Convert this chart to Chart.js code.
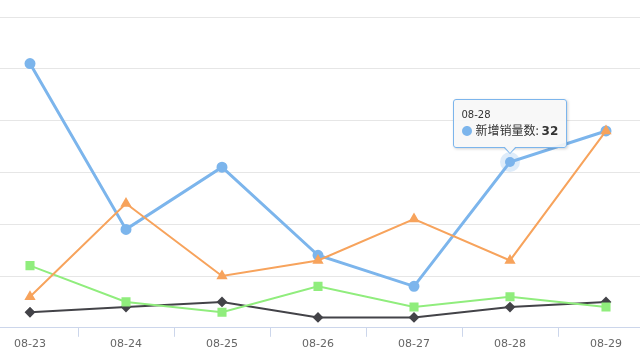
<!DOCTYPE html>
<html>
<head>
<meta charset="utf-8">
<script src="https://cdn.jsdelivr.net/npm/chart.js@4/dist/chart.umd.min.js"></script>
<style>
  html, body { margin: 0; padding: 0; background: #fff; overflow: hidden; width: 640px; height: 360px; }
  #wrap { position: absolute; left: -26px; top: 0; width: 688px; height: 360px; }
  #tip {
    position: absolute; display: none; box-sizing: border-box;
    background: rgba(247,247,247,0.9); border: 1px solid #7cb5ec; border-radius: 3px;
    box-shadow: 1px 1px 3px rgba(0,0,0,0.18);
    padding: 8px 8px 7px 8px; color: #333; white-space: nowrap;
    font-family: "DejaVu Sans", "Noto Sans CJK SC", sans-serif;
  }
  #tip .t { font-size: 10px; line-height: 13px; }
  #tip .b { font-size: 12px; line-height: 18px; font-family: "Noto Sans CJK SC", sans-serif; }
  #tip .b b { font-family: "DejaVu Sans", sans-serif; }
  #tip .dot { color: #7cb5ec; font-size: 11px; margin-right: 3px; }
  #tip:after, #tip:before {
    content: ""; position: absolute; left: 50%; width: 0; height: 0;
    border-left: 7px solid transparent; border-right: 7px solid transparent;
    transform: translateX(-50%);
  }
  #tip:before { top: 100%; border-top: 7px solid #7cb5ec; }
  #tip:after { top: calc(100% - 1px); border-top: 7px solid rgba(247,247,247,1); border-left-width: 6px; border-right-width: 6px; }
</style>
</head>
<body>
<div id="wrap"><canvas id="myChart"></canvas></div>
<div id="tip"></div>
<script>
const days = ['08-23', '08-24', '08-25', '08-26', '08-27', '08-28', '08-29']
const newSales = [51, 19, 31, 14, 8, 32, 38]
const seriesB = [3, 4, 5, 2, 2, 4, 5]
const seriesC = [12, 5, 3, 8, 4, 6, 4]
const seriesD = [6, 24, 10, 13, 21, 13, 38]
const yTicks = [0, 10, 20, 30, 40, 50, 60]

const tipEl = document.getElementById('tip');

function externalTip(context) {
  const model = context.tooltip;
  if (model.opacity === 0 || !model.dataPoints || !model.dataPoints.length) {
    tipEl.style.display = 'none';
    return;
  }
  const dp = model.dataPoints[0];
  tipEl.innerHTML = '<div class="t">' + dp.label + '</div>' +
    '<div class="b"><span class="dot">●</span>' + dp.dataset.label + ': <b>' + dp.formattedValue + '</b></div>';
  tipEl.style.display = 'block';
  const box = context.chart.canvas.getBoundingClientRect();
  const w = tipEl.offsetWidth, h = tipEl.offsetHeight;
  tipEl.style.left = (box.left + model.caretX - w / 2) + 'px';
  tipEl.style.top = (box.top + model.caretY - h - 14) + 'px';
}

const ctx = document.getElementById('myChart');

const chart = new Chart(ctx, {
  type: 'line',
  data: {
    labels: days,
    datasets: [
      {
        label: '新增销量数',
        data: newSales,
        borderColor: '#7cb5ec',
        backgroundColor: '#7cb5ec',
        borderWidth: 3,
        pointStyle: 'circle',
        pointRadius: 4,
        pointHoverRadius: 5,
        pointHoverBackgroundColor: '#7cb5ec',
        pointHoverBorderColor: 'rgba(124,181,236,0.25)',
        pointHoverBorderWidth: 10,
        order: 4
      },
      {
        label: '新增订单数',
        data: seriesB,
        borderColor: '#434348',
        backgroundColor: '#434348',
        borderWidth: 2,
        pointStyle: 'rectRot',
        pointRadius: 4,
        order: 3
      },
      {
        label: '新增用户数',
        data: seriesC,
        borderColor: '#90ed7d',
        backgroundColor: '#90ed7d',
        borderWidth: 2,
        pointStyle: 'rect',
        pointRadius: 5,
        order: 2
      },
      {
        label: '新增访问数',
        data: seriesD,
        borderColor: '#f7a35c',
        backgroundColor: '#f7a35c',
        borderWidth: 2,
        pointStyle: 'triangle',
        pointRadius: 4.5,
        order: 1
      }
    ]
  },
  options: {
    responsive: true,
    maintainAspectRatio: false,
    animation: false,
    events: [],
    layout: { padding: { top: 17, bottom: 8, left: 0, right: 0 } },
    plugins: {
      legend: { display: false },
      tooltip: { enabled: false, external: externalTip, mode: 'nearest', intersect: true }
    },
    scales: {
      x: {
        offset: true,
        grid: { offset: true, drawOnChartArea: false, drawTicks: true, tickLength: 9, color: '#ccd6eb' },
        border: { display: true, color: '#ccd6eb', width: 1 },
        ticks: { color: '#666666', padding: 1, font: { family: 'DejaVu Sans', size: 11 } }
      },
      y: {
        min: 0,
        max: 60,
        afterBuildTicks: (scale) => { scale.ticks = yTicks.map(v => ({ value: v })) },
        grid: { color: '#e6e6e6', drawTicks: false },
        border: { display: false },
        ticks: { display: false }
      }
    }
  }
});

const active = [{ datasetIndex: 0, index: 5 }];
chart.setActiveElements(active);
const pt = chart.getDatasetMeta(0).data[5];
chart.tooltip.setActiveElements(active, { x: pt.x, y: pt.y });
chart.update();
</script>
</body>
</html>
